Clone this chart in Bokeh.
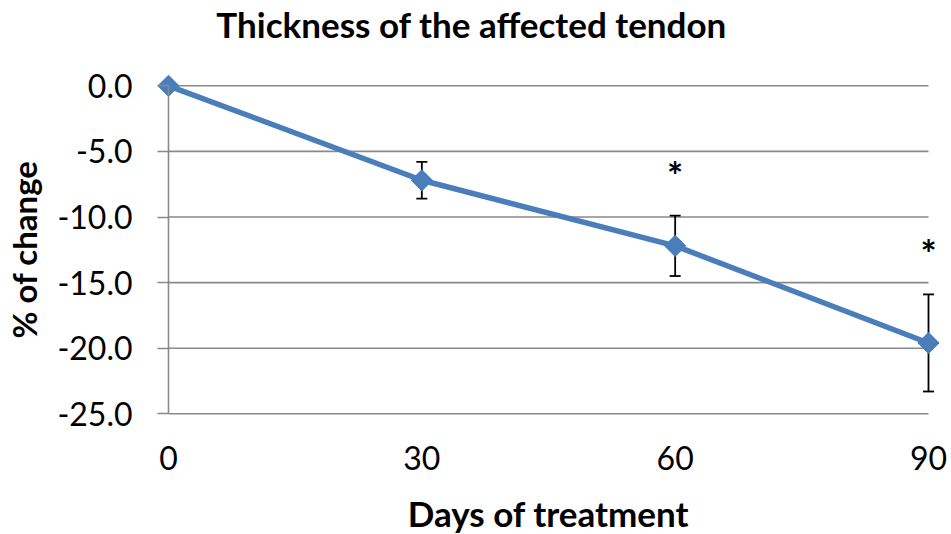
import numpy as np
from bokeh.plotting import figure
from bokeh.models import Range1d, FixedTicker, Label, Whisker, ColumnDataSource, TeeHead, NumeralTickFormatter
from bokeh.embed import file_html
from bokeh.resources import INLINE
from bokeh.core.properties import value

# ---- data ----
days = [0, 30, 60, 90]
pct_change = [0.0, -7.2, -12.2, -19.6]
err = [0.0, 1.4, 2.3, 3.7]
sig_days = [60, 90]
y_ticks = [0, -5, -10, -15, -20, -25]
x_ticks = [0, 30, 60, 90]
title_text = "Thickness of the affected tendon"
x_label = "Days of treatment"
y_label = "% of change"

FONT = "Lato"
BLUE = "#4A7EBB"
GRID = "#898989"

W, H = 951, 534
# the frame spans the whole canvas; the axes are pinned to the data corner (0, -25)
p = figure(width=W, height=H, output_backend="svg", toolbar_location=None,
           x_range=Range1d(-19.895, 92.724), y_range=Range1d(-34.20, 6.502),
           min_border_left=0, min_border_right=0, min_border_top=0, min_border_bottom=0)
p.outline_line_color = None
p.background_fill_color = "white"
p.border_fill_color = "white"
p.xgrid.visible = False
p.ygrid.visible = False

# horizontal gridlines across the data span
p.segment(x0=[days[0]] * len(y_ticks), x1=[days[-1]] * len(y_ticks), y0=y_ticks, y1=y_ticks,
          line_color=GRID, line_width=1.6, level="underlay")

# y axis at x = 0
yax = p.yaxis[0]
yax.fixed_location = days[0]
yax.bounds = (min(y_ticks), max(y_ticks))
yax.ticker = FixedTicker(ticks=y_ticks)
yax.formatter = NumeralTickFormatter(format="0.0")
yax.axis_line_color = GRID
yax.axis_line_width = 1.6
yax.major_tick_line_color = GRID
yax.major_tick_line_width = 1.6
yax.major_tick_out = 11
yax.major_tick_in = 0
yax.minor_tick_line_color = None
yax.major_label_standoff = 25
yax.major_label_text_font = FONT
yax.major_label_text_font_size = "32px"
yax.major_label_text_color = "black"
yax.axis_label = y_label
yax.axis_label_standoff = 10
yax.axis_label_text_font = FONT
yax.axis_label_text_font_style = "bold"
yax.axis_label_text_font_size = "33px"
yax.axis_label_text_color = "black"

# x axis at y = -25
xax = p.xaxis[0]
xax.fixed_location = min(y_ticks)
xax.bounds = (min(x_ticks), max(x_ticks))
xax.ticker = FixedTicker(ticks=x_ticks)
xax.axis_line_color = None
xax.major_tick_line_color = None
xax.minor_tick_line_color = None
xax.major_label_standoff = 26
xax.major_label_text_font = FONT
xax.major_label_text_font_size = "32px"
xax.major_label_text_color = "black"
xax.axis_label = x_label
xax.axis_label_standoff = 19
xax.axis_label_text_font = FONT
xax.axis_label_text_font_style = "bold"
xax.axis_label_text_font_size = "35px"
xax.axis_label_text_color = "black"

# error bars
idx = [i for i in range(len(days)) if err[i] > 0]
esrc = ColumnDataSource(dict(
    x=[days[i] for i in idx],
    upper=[pct_change[i] + err[i] for i in idx],
    lower=[pct_change[i] - err[i] for i in idx],
))
wh = Whisker(base="x", upper="upper", lower="lower", source=esrc, dimension="height",
             line_color="black", line_width=1.8,
             upper_head=TeeHead(size=11, line_color="black", line_width=1.8),
             lower_head=TeeHead(size=11, line_color="black", line_width=1.8))
p.add_layout(wh)

# series
p.line(days, pct_change, line_color=BLUE, line_width=5.5)
p.scatter(days, pct_change, marker="square", angle=np.pi / 4, size=15,
          fill_color=BLUE, line_color=BLUE)

# significance asterisks above the upper error bars
sig_y = [pct_change[days.index(d)] + err[days.index(d)] + 3.5 for d in sig_days]
p.text(x=sig_days, y=sig_y, text=["*"] * len(sig_days), text_font=value(FONT),
       text_font_style="bold", text_font_size="38px", text_align="center",
       text_baseline="middle", text_color="black", y_offset=5)

# chart title
p.add_layout(Label(x=35.9, y=4.68, text=title_text, text_font=FONT, text_font_style="bold",
                   text_font_size="35px", text_align="center", text_baseline="alphabetic",
                   text_color="black"))

open("out.html", "w").write(file_html(p, INLINE))
